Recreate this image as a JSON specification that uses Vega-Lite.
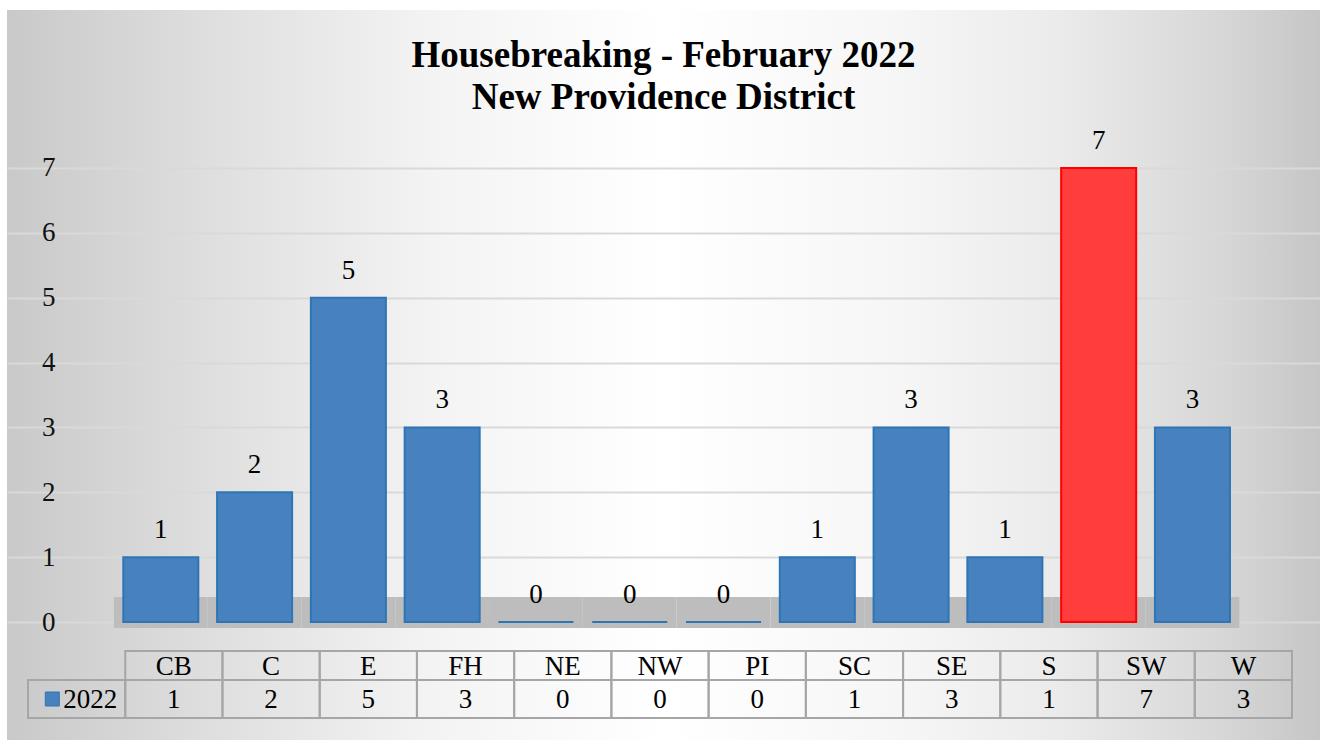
{
  "$schema": "https://vega.github.io/schema/vega-lite/v6.json",
  "width": 1313,
  "height": 730,
  "autosize": {"type": "none"},
  "padding": {"left": 7, "top": 10, "right": 0, "bottom": 0},
  "background": "#ffffff",
  "config": {
    "font": "Liberation Serif",
    "view": {
      "stroke": null,
      "fill": {
        "gradient": "linear", "x1": 0, "y1": 0.5, "x2": 1, "y2": 0.5,
        "stops": [
          {"offset": 0, "color": "#c9c9c9"},
          {"offset": 0.15, "color": "#dedede"},
          {"offset": 0.32, "color": "#f3f3f3"},
          {"offset": 0.5, "color": "#ffffff"},
          {"offset": 0.68, "color": "#f6f6f6"},
          {"offset": 0.8, "color": "#ebebeb"},
          {"offset": 0.92, "color": "#d8d8d8"},
          {"offset": 1, "color": "#c6c6c6"}
        ]
      }
    },
    "axisY": {
      "labelFont": "Liberation Serif",
      "labelFontSize": 27,
      "labelColor": "#111111",
      "gridColor": "#d9d9d9",
      "gridWidth": 2,
      "domain": false,
      "ticks": false,
      "offset": -50,
      "labelPadding": 2,
      "title": null
    }
  },
  "title": {
    "text": ["Housebreaking - February 2022", "New Providence District"],
    "font": "Liberation Serif",
    "fontSize": 37,
    "fontWeight": "bold",
    "color": "#000000",
    "anchor": "middle",
    "frame": "group",
    "offset": -107,
    "lineHeight": 42
  },
  "data": {
    "values": [
      {"area": "CB", "count": 1, "series": "2022"},
      {"area": "C", "count": 2, "series": "2022"},
      {"area": "E", "count": 5, "series": "2022"},
      {"area": "FH", "count": 3, "series": "2022"},
      {"area": "NE", "count": 0, "series": "2022"},
      {"area": "NW", "count": 0, "series": "2022"},
      {"area": "PI", "count": 0, "series": "2022"},
      {"area": "SC", "count": 1, "series": "2022"},
      {"area": "SE", "count": 3, "series": "2022"},
      {"area": "S", "count": 1, "series": "2022"},
      {"area": "SW", "count": 7, "series": "2022"},
      {"area": "W", "count": 3, "series": "2022"}
    ]
  },
  "resolve": {"scale": {"x": "independent"}},
  "layer": [
    {
      "layer": [
        {
          "mark": {"type": "rect", "color": "#bdbdbd"},
          "encoding": {
            "x": {"field": "area", "type": "nominal", "axis": null,
                  "scale": {"domain": ["CB","C","E","FH","NE","NW","PI","SC","SE","S","SW","W"], "paddingInner": 0, "paddingOuter": 1.1229, "align": 0.57}},
            "y": {"datum": 0.385, "type": "quantitative",
                  "scale": {"domain": [-1.819, 9.436], "nice": false, "zero": false}},
            "y2": {"datum": -0.0925}
          }
        },
        {
          "mark": {"type": "bar", "width": {"band": 0.8}, "strokeWidth": 2},
          "encoding": {
            "x": {"field": "area", "type": "nominal", "axis": null,
                  "scale": {"domain": ["CB","C","E","FH","NE","NW","PI","SC","SE","S","SW","W"], "paddingInner": 0, "paddingOuter": 1.1229, "align": 0.57}},
            "y": {"field": "count", "type": "quantitative",
                  "scale": {"domain": [-1.819, 9.436], "nice": false, "zero": false},
                  "axis": {"values": [0, 1, 2, 3, 4, 5, 6, 7], "format": "d", "grid": true, "gridColor": "#d9d9d9", "gridWidth": 2, "offset": -50, "labelPadding": 2, "title": null}},
            "y2": {"datum": 0},
            "fill": {"condition": {"test": "datum.area === 'SW'", "value": "#ff3d3d"}, "value": "#4782be"},
            "stroke": {"condition": {"test": "datum.area === 'SW'", "value": "#ff0000"}, "value": "#2f75b5"}
          }
        },
        {
          "mark": {"type": "text", "dy": -19, "baseline": "alphabetic", "fontSize": 27, "font": "Liberation Serif", "color": "#000000"},
          "encoding": {
            "x": {"field": "area", "type": "nominal", "axis": null,
                  "scale": {"domain": ["CB","C","E","FH","NE","NW","PI","SC","SE","S","SW","W"], "paddingInner": 0, "paddingOuter": 1.1229, "align": 0.57}},
            "y": {"field": "count", "type": "quantitative",
                  "scale": {"domain": [-1.819, 9.436], "nice": false, "zero": false}},
            "text": {"field": "count", "type": "quantitative"}
          }
        }
      ]
    },
    {
      "layer": [
        {
          "mark": {"type": "rect", "filled": false, "color": "#a6a6a6", "strokeWidth": 2},
          "encoding": {
            "x": {"field": "area", "type": "nominal", "axis": null,
                  "scale": {"domain": ["_","CB","C","E","FH","NE","NW","PI","SC","SE","S","SW","W"], "paddingInner": 0, "paddingOuter": 0.252, "align": 0.4286}},
            "y": {"datum": -0.447, "type": "quantitative",
                  "scale": {"domain": [-1.819, 9.436], "nice": false, "zero": false}},
            "y2": {"datum": -0.894}
          }
        },
        {
          "mark": {"type": "rect", "filled": false, "color": "#a6a6a6", "strokeWidth": 2},
          "encoding": {
            "x": {"field": "area", "type": "nominal", "axis": null,
                  "scale": {"domain": ["_","CB","C","E","FH","NE","NW","PI","SC","SE","S","SW","W"], "paddingInner": 0, "paddingOuter": 0.252, "align": 0.4286}},
            "y": {"datum": -0.894, "type": "quantitative",
                  "scale": {"domain": [-1.819, 9.436], "nice": false, "zero": false}},
            "y2": {"datum": -1.48}
          }
        },
        {
          "transform": [{"filter": "datum.area === 'CB'"}],
          "mark": {"type": "rect", "filled": false, "color": "#a6a6a6", "strokeWidth": 2},
          "encoding": {
            "x": {"datum": "_", "type": "nominal", "axis": null,
                  "scale": {"domain": ["_","CB","C","E","FH","NE","NW","PI","SC","SE","S","SW","W"], "paddingInner": 0, "paddingOuter": 0.252, "align": 0.4286}},
            "y": {"datum": -0.894, "type": "quantitative",
                  "scale": {"domain": [-1.819, 9.436], "nice": false, "zero": false}},
            "y2": {"datum": -1.48}
          }
        },
        {
          "mark": {"type": "text", "baseline": "alphabetic", "fontSize": 27, "font": "Liberation Serif", "color": "#000000"},
          "encoding": {
            "x": {"field": "area", "type": "nominal", "axis": null,
                  "scale": {"domain": ["_","CB","C","E","FH","NE","NW","PI","SC","SE","S","SW","W"], "paddingInner": 0, "paddingOuter": 0.252, "align": 0.4286}},
            "y": {"datum": -0.817, "type": "quantitative",
                  "scale": {"domain": [-1.819, 9.436], "nice": false, "zero": false}},
            "text": {"field": "area", "type": "nominal"}
          }
        },
        {
          "mark": {"type": "text", "baseline": "alphabetic", "fontSize": 27, "font": "Liberation Serif", "color": "#000000"},
          "encoding": {
            "x": {"field": "area", "type": "nominal", "axis": null,
                  "scale": {"domain": ["_","CB","C","E","FH","NE","NW","PI","SC","SE","S","SW","W"], "paddingInner": 0, "paddingOuter": 0.252, "align": 0.4286}},
            "y": {"datum": -1.33, "type": "quantitative",
                  "scale": {"domain": [-1.819, 9.436], "nice": false, "zero": false}},
            "text": {"field": "count", "type": "quantitative"}
          }
        },
        {
          "transform": [{"filter": "datum.area === 'CB'"}],
          "mark": {"type": "text", "baseline": "alphabetic", "fontSize": 27, "font": "Liberation Serif", "color": "#000000"},
          "encoding": {
            "x": {"datum": "_", "type": "nominal", "bandPosition": 0.64, "axis": null,
                  "scale": {"domain": ["_","CB","C","E","FH","NE","NW","PI","SC","SE","S","SW","W"], "paddingInner": 0, "paddingOuter": 0.252, "align": 0.4286}},
            "y": {"datum": -1.33, "type": "quantitative",
                  "scale": {"domain": [-1.819, 9.436], "nice": false, "zero": false}},
            "text": {"field": "series", "type": "nominal"}
          }
        },
        {
          "transform": [{"filter": "datum.area === 'CB'"}],
          "mark": {"type": "point", "shape": "square", "filled": true, "size": 196, "color": "#4782be", "stroke": "#2f75b5", "strokeWidth": 1, "opacity": 1},
          "encoding": {
            "x": {"datum": "_", "type": "nominal", "bandPosition": 0.25, "axis": null,
                  "scale": {"domain": ["_","CB","C","E","FH","NE","NW","PI","SC","SE","S","SW","W"], "paddingInner": 0, "paddingOuter": 0.252, "align": 0.4286}},
            "y": {"datum": -1.187, "type": "quantitative",
                  "scale": {"domain": [-1.819, 9.436], "nice": false, "zero": false}}
          }
        }
      ]
    }
  ]
}
